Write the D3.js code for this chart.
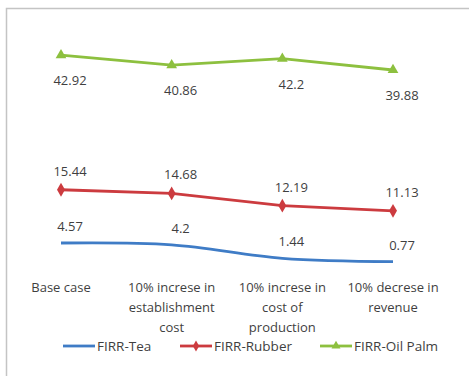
<!DOCTYPE html>
<html>
<head>
<meta charset="utf-8">
<script src="https://cdn.jsdelivr.net/npm/d3@7"></script>
<style>
  body { margin: 0; background: #fff; }
  text { font-family: "Open Sans", "Noto Sans", sans-serif; fill: #3f3f3f; }
</style>
</head>
<body>
<div id="chart"></div>
<script>
// categories and values
var categories = [
  ["Base case"],
  ["10% increse in", "establishment", "cost"],
  ["10% increse in", "cost of", "production"],
  ["10% decrese in", "revenue"]
];
var tea = [4.57, 4.2, 1.44, 0.77];
var rubber = [15.44, 14.68, 12.19, 11.13];
var oilPalm = [42.92, 40.86, 42.2, 39.88];
var seriesNames = ["FIRR-Tea", "FIRR-Rubber", "FIRR-Oil Palm"];

var width = 469, height = 376;

var series = [
  { name: seriesNames[0], values: tea, color: "#3f7cc6", marker: null, labelDy: -12, curve: d3.curveCatmullRom.alpha(0.5) },
  { name: seriesNames[1], values: rubber, color: "#cc3b3f", marker: "diamond", labelDy: -14, curve: d3.curveLinear },
  { name: seriesNames[2], values: oilPalm, color: "#8dc03f", marker: "triangle", labelDy: 30, curve: d3.curveLinear }
];

var svg = d3.select("#chart").append("svg")
  .attr("width", width)
  .attr("height", height);

// chart frame (only top and left visible, picture is cropped)
svg.append("path")
  .attr("d", "M6.5,376 V8.5 H469")
  .attr("fill", "none")
  .attr("stroke", "#c4c4c4")
  .attr("stroke-width", 1.5);

var x = d3.scalePoint()
  .domain(d3.range(categories.length))
  .range([61, 393]);

var y = d3.scaleLinear()
  .domain([0, 50])
  .range([265.4, 20.4]);

var line = d3.line()
  .x(function(d, i) { return x(i); })
  .y(function(d) { return y(d); });

series.forEach(function(s) {
  svg.append("path")
    .datum(s.values)
    .attr("fill", "none")
    .attr("stroke", s.color)
    .attr("stroke-width", 2.8)
    .attr("d", line.curve(s.curve));

  if (s.marker) {
    var sym = s.marker == "diamond" ? d3.symbolDiamond : d3.symbolTriangle;
    svg.selectAll(null)
      .data(s.values)
      .enter()
      .append("path")
      .attr("transform", function(d, i) { return "translate(" + x(i) + "," + y(d) + ")"; })
      .attr("d", d3.symbol().type(sym).size(s.marker == "diamond" ? 55 : 50))
      .attr("fill", s.color);
  }

  svg.selectAll(null)
    .data(s.values)
    .enter()
    .append("text")
    .attr("x", function(d, i) { return x(i) + 9; })
    .attr("y", function(d) { return y(d) + s.labelDy; })
    .attr("text-anchor", "middle")
    .attr("font-size", 13)
    .text(function(d) { return d; });
});

// category labels
var cat = svg.selectAll("g.cat")
  .data(categories)
  .enter()
  .append("text")
  .attr("text-anchor", "middle")
  .attr("font-size", 13)
  .attr("transform", function(d, i) { return "translate(" + x(i) + ",292)"; });

cat.selectAll("tspan")
  .data(function(d) { return d; })
  .enter()
  .append("tspan")
  .attr("x", 0)
  .attr("y", function(d, j) { return j * 20; })
  .text(function(d) { return d; });

// legend
var legendX = [63, 180, 320];
var legend = svg.selectAll("g.legend")
  .data(series)
  .enter()
  .append("g")
  .attr("transform", function(d, i) { return "translate(" + legendX[i] + ",346)"; });

legend.append("line")
  .attr("x1", 0).attr("x2", 32)
  .attr("stroke", function(d) { return d.color; })
  .attr("stroke-width", 2.8);

legend.filter(function(d) { return d.marker; })
  .append("path")
  .attr("transform", "translate(16,0)")
  .attr("d", function(d) {
    return d3.symbol().type(d.marker == "diamond" ? d3.symbolDiamond : d3.symbolTriangle).size(35)();
  })
  .attr("fill", function(d) { return d.color; });

legend.append("text")
  .attr("x", 34)
  .attr("y", 5)
  .attr("font-size", 13.5)
  .text(function(d) { return d.name; });
</script>
</body>
</html>
